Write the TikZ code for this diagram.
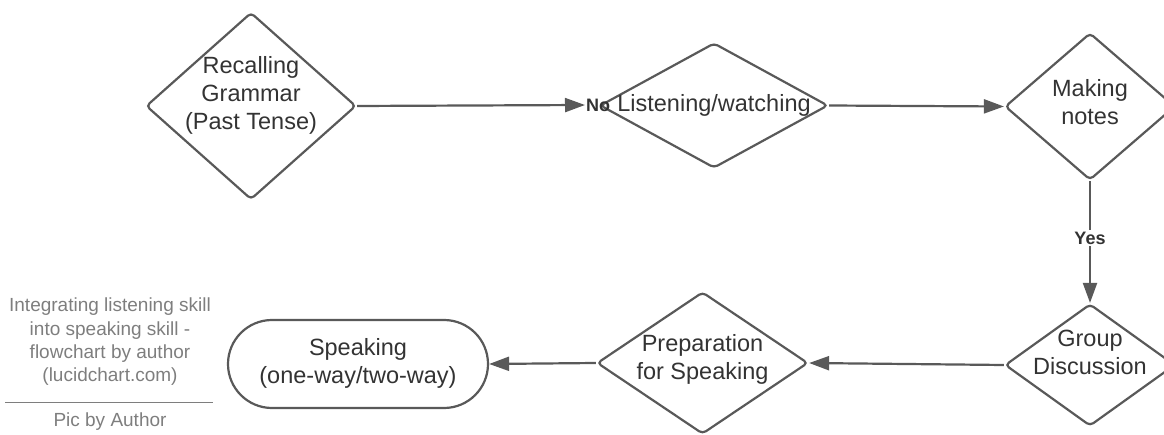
\documentclass[tikz,border=0pt]{standalone}
\usepackage{fontspec}
\setmainfont{Liberation Sans}
\usetikzlibrary{shapes.geometric,arrows.meta}
\definecolor{edgegray}{HTML}{595959}
\definecolor{textgray}{HTML}{333333}
\definecolor{capgray}{HTML}{7E7E7E}
\tikzset{every path/.style={edgegray,line width=2.2pt},
  decision/.style={diamond,draw,rounded corners=4pt,inner sep=0pt},
  terminal/.style={draw,rounded corners=44pt,inner sep=0pt},
  txt/.style={align=center,inner sep=0pt,text=textgray,font=\fontsize{23.5}{28}\selectfont},
  lbl/.style={inner sep=2pt,text=textgray,font=\bfseries\fontsize{18}{20}\selectfont},
  captxt/.style={align=center,inner sep=0pt,text=capgray,font=\fontsize{19}{23.3}\selectfont},
  flow/.style={-{Triangle[length=20pt,width=14pt]}}}

\begin{document}
\begin{tikzpicture}[x=1pt,y=-1pt]
  \useasboundingbox (0,0) rectangle (1164,435);
  % top row
  \node[decision,minimum width=210,minimum height=187] (recall) at (251,106) {};
  \node[txt] (recall-t) at ([yshift=11pt]recall) {Recalling\\Grammar\\(Past Tense)};
  \node[decision,minimum width=228,minimum height=125] (listen) at (714,105.5) {};
  \node[txt] (listen-t) at (listen) {Listening/watching};
  \node[decision,minimum width=170,minimum height=147] (notes) at (1090,106.5) {};
  \node[txt] (notes-t) at ([yshift=4pt]notes) {Making\\notes};
  % bottom row
  \node[decision,minimum width=170,minimum height=122] (group) at (1090,365) {};
  \node[txt] (group-t) at ([yshift=13pt]group) {Group\\Discussion};
  \node[decision,minimum width=211,minimum height=142] (prep) at (702.5,363) {};
  \node[txt] (prep-t) at ([yshift=4pt]prep) {Preparation\\for Speaking};
  \node[terminal,minimum width=260,minimum height=88] (speak) at (358,364) {};
  \node[txt] (speak-t) at ([yshift=1pt]speak) {Speaking\\(one-way/two-way)};
  % connectors
  \node[lbl,anchor=west,inner sep=0pt] (no) at (585,105) {No};
  \draw[flow] (recall.east) -- (no.west);
  \draw[flow] (listen.east) -- (notes.west);
  \draw[flow] (notes.south) -- (group.north);
  \node[lbl,fill=white] (yes) at (1090,238) {Yes};
  \draw[flow] (group.west) -- (prep.east);
  \draw[flow] (prep.west) -- (speak.east);
  % caption
  \node[captxt] (caption) at (110,342) {Integrating listening skill\\into speaking skill -\\flowchart by author\\(lucidchart.com)};
  \draw[capgray,line width=0.8pt] (5,402) -- (213,402);
  \node[captxt] (credit) at (110,422) {Pic by Author};
\end{tikzpicture}
\end{document}
